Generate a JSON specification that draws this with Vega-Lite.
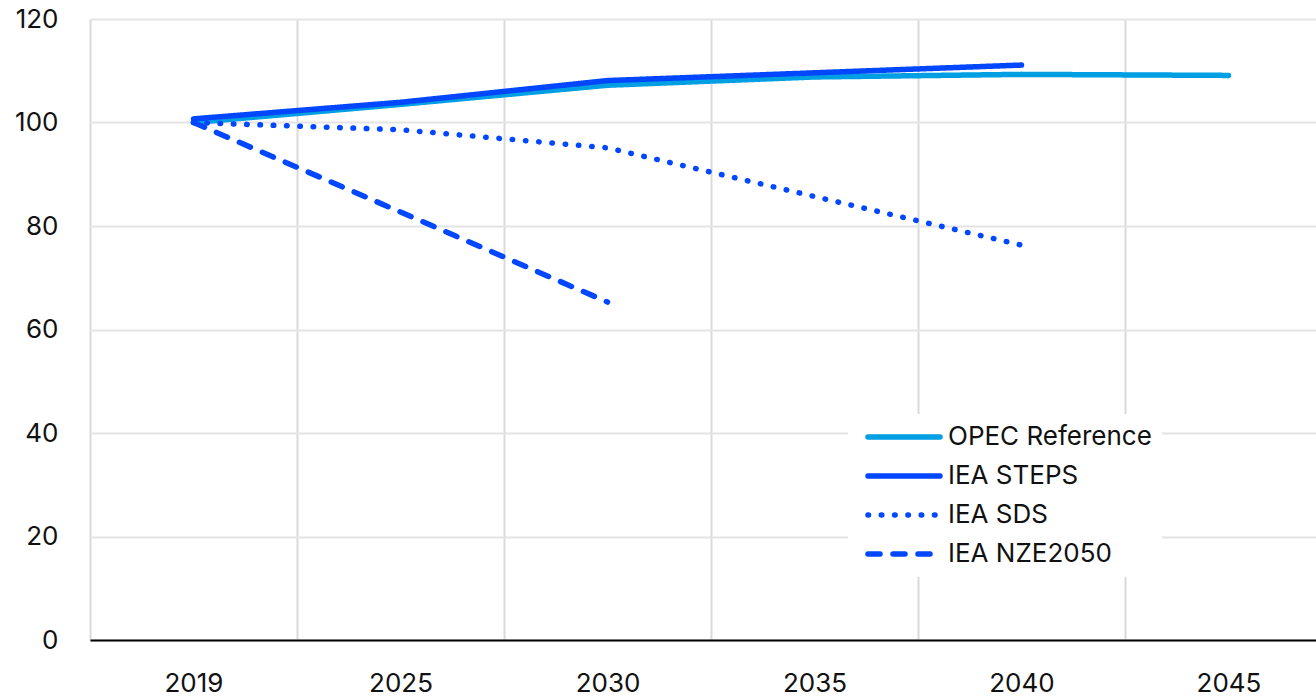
{
  "$schema": "https://vega.github.io/schema/vega-lite/v6.json",
  "autosize": {"type": "none"},
  "padding": {"left": 90, "top": 19, "right": 0, "bottom": 60},
  "width": 1226,
  "height": 621,
  "background": "white",
  "config": {
    "view": {"stroke": null},
    "font": "Inter",
    "axis": {"labelFont": "Inter", "labelColor": "#111111"},
    "legend": {"labelFont": "Inter", "labelColor": "#111111"}
  },
  "data": {
    "values": [
      {"series": "OPEC Reference", "year": "2019", "value": 100.0},
      {"series": "OPEC Reference", "year": "2025", "value": 103.5},
      {"series": "OPEC Reference", "year": "2030", "value": 107.2},
      {"series": "OPEC Reference", "year": "2035", "value": 108.8},
      {"series": "OPEC Reference", "year": "2040", "value": 109.3},
      {"series": "OPEC Reference", "year": "2045", "value": 109.1},
      {"series": "IEA STEPS", "year": "2019", "value": 100.7},
      {"series": "IEA STEPS", "year": "2025", "value": 103.9},
      {"series": "IEA STEPS", "year": "2030", "value": 108.1},
      {"series": "IEA STEPS", "year": "2035", "value": 109.6},
      {"series": "IEA STEPS", "year": "2040", "value": 111.1},
      {"series": "IEA SDS", "year": "2019", "value": 100.0},
      {"series": "IEA SDS", "year": "2025", "value": 98.6},
      {"series": "IEA SDS", "year": "2030", "value": 95.1},
      {"series": "IEA SDS", "year": "2035", "value": 85.7},
      {"series": "IEA SDS", "year": "2040", "value": 76.3},
      {"series": "IEA NZE2050", "year": "2019", "value": 100.0},
      {"series": "IEA NZE2050", "year": "2025", "value": 82.7},
      {"series": "IEA NZE2050", "year": "2030", "value": 65.3}
    ]
  },
  "mark": {"type": "line", "strokeWidth": 5.5, "strokeCap": "round", "strokeJoin": "round"},
  "encoding": {
    "x": {
      "field": "year",
      "type": "ordinal",
      "bandPosition": 0.5,
      "scale": {"type": "band", "domain": ["2019", "2025", "2030", "2035", "2040", "2045"], "paddingInner": 0, "paddingOuter": 0, "range": [0, 1242]},
      "axis": {
        "title": null,
        "tickBand": "extent",
        "grid": true,
        "gridColor": "#DADADA",
        "gridWidth": 2,
        "ticks": false,
        "domainColor": "#000000",
        "domainWidth": 2,
        "labelFontSize": 26,
        "labelPadding": 30,
        "labelAngle": 0
      }
    },
    "y": {
      "field": "value",
      "type": "quantitative",
      "scale": {"domain": [0, 120], "nice": false, "zero": true},
      "axis": {
        "title": null,
        "values": [0, 20, 40, 60, 80, 100, 120],
        "grid": true,
        "gridColor": "#E4E4E4",
        "gridWidth": 2,
        "domain": false,
        "ticks": false,
        "labelPadding": 32,
        "labelFontSize": 26
      }
    },
    "color": {
      "field": "series",
      "type": "nominal",
      "scale": {
        "domain": ["OPEC Reference", "IEA STEPS", "IEA SDS", "IEA NZE2050"],
        "range": ["#009FE3", "#0047FF", "#0047FF", "#0047FF"]
      },
      "legend": {
        "title": null,
        "orient": "none",
        "legendX": 758,
        "legendY": 395,
        "fillColor": "white",
        "padding": 10,
        "symbolType": "stroke",
        "symbolSize": 5184,
        "symbolStrokeWidth": 5.5,
        "symbolOffset": 7,
        "labelOffset": 5,
        "labelLimit": 0,
        "clipHeight": 26,
        "rowPadding": 13,
        "labelFontSize": 26,
        "encode": {"symbols": {"update": {"strokeCap": {"value": "round"}}}}
      }
    },
    "strokeDash": {
      "field": "series",
      "type": "nominal",
      "scale": {
        "domain": ["OPEC Reference", "IEA STEPS", "IEA SDS", "IEA NZE2050"],
        "range": [[1, 0], [1, 0], [0.5, 12.8], [12, 13]]
      }
    }
  }
}
